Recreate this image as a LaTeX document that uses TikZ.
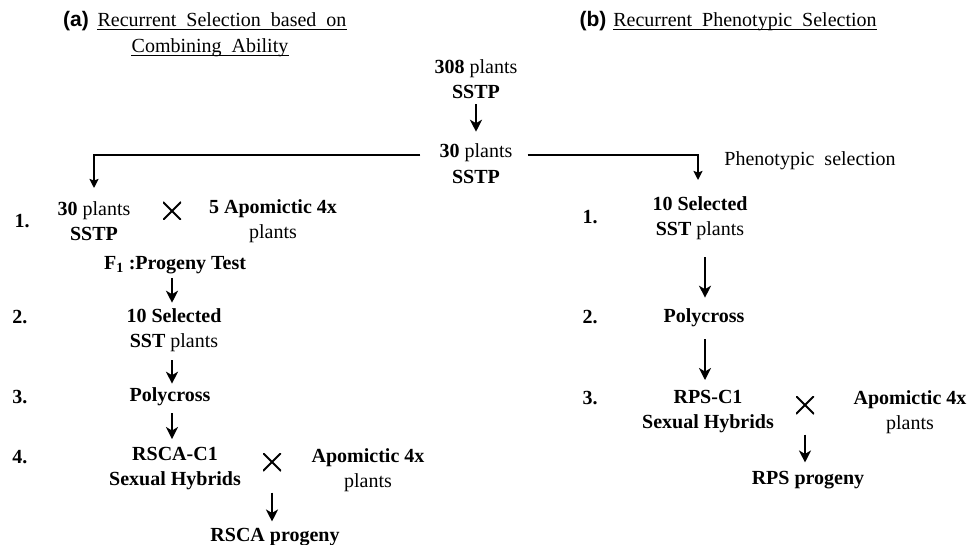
\documentclass[tikz,border=0pt]{standalone}
\usepackage{fontspec}
\setmainfont{Liberation Serif}
\newfontfamily\hdfont{Liberation Sans}
\usetikzlibrary{arrows.meta}
\begin{document}
\begin{tikzpicture}[x=1pt,y=-1pt,
  txt/.style={font=\fontsize{20}{25}\selectfont, align=center, inner sep=1pt},
  hd/.style={font=\fontsize{20}{25}\selectfont, inner sep=0pt, text height=14pt, text depth=3pt},
  uline/.style={line width=0.8pt},
  lab/.style={font=\hdfont\bfseries\fontsize{21}{25}\selectfont, inner sep=0pt},
  num/.style={font=\fontsize{20}{25}\selectfont\bfseries, inner sep=0pt},
  arr/.style={line width=2pt, -{Stealth[length=12pt,width=12pt,inset=3.5pt]}},
  brk/.style={line width=1.7pt, -{Stealth[length=9pt,width=9pt,inset=1.5pt]}},
  crossmark/.style={minimum size=18pt, inner sep=0pt,
    path picture={\draw[line width=2pt]
      (path picture bounding box.north west) -- (path picture bounding box.south east)
      (path picture bounding box.north east) -- (path picture bounding box.south west);}}
]
\useasboundingbox (0,0) rectangle (969,545);
\fill[white] (0,0) rectangle (969,545);
\clip (0,0) rectangle (969,545);

% headings
\node[lab] (la) at (76,21) {(a)};
\node[hd] (ha1) at (222,21) {Recurrent\ \ Selection\ \ based\ \ on};
\node[hd] (ha2) at (210,47) {Combining\ \ Ability};
\node[lab] (lb) at (593,21) {(b)};
\node[hd] (hb1) at (745,21) {Recurrent\ \ Phenotypic\ \ Selection};
\draw[uline] (ha1.south west) -- (ha1.south east);
\draw[uline] (ha2.south west) -- (ha2.south east);
\draw[uline] (hb1.south west) -- (hb1.south east);

% centre column
\node[txt] (p308) at (476,79) {\textbf{308} plants\\\textbf{SSTP}};
\node[txt] (p30) at (476,153) {\textbf{30} plants};
\node[txt] (p30s) at (476,177) {\textbf{SSTP}};
\draw[arr, shorten <=4.5pt, shorten >=11pt] (p308) -- (p30);

% (a) column
\node[num] (a1) at (22,221) {1.};
\node[num] (a2) at (20,317) {2.};
\node[num] (a3) at (20,397) {3.};
\node[num] (a4) at (20,457) {4.};
\node[txt] (a30) at (94,221) {\textbf{30} plants\\\textbf{SSTP}};
\node[crossmark] (ax1) at (172,211) {};
\node[txt] (aapo) at (273,221) {\textbf{5 Apomictic 4x}\\plants};
\node[txt] (af1) at (175,265) {\textbf{F\textsubscript{1} :Progeny Test}};
\node[txt] (asel) at (174,330) {\textbf{10 Selected}\\\textbf{SST} plants};
\node[txt] (apoly) at (170,397) {\textbf{Polycross}};
\node[txt] (arsca) at (175,469) {\textbf{RSCA-C1}\\\textbf{Sexual Hybrids}};
\node[crossmark] (ax2) at (272,462) {};
\node[txt] (aapo2) at (368,470) {\textbf{Apomictic 4x}\\plants};
\node[txt] (aprog) at (275,537) {\textbf{RSCA progeny}};

\draw[arr, shorten <=3pt, shorten >=4.5pt] (af1.south -| 172,0) -- (asel.north -| 172,0);
\draw[arr, shorten <=7.5pt, shorten >=3pt] (asel.south -| 172,0) -- (apoly.north -| 172,0);
\draw[arr, shorten <=6pt, shorten >=7.5pt] (apoly.south -| 172,0) -- (arsca.north -| 172,0);
\draw[arr, shorten <=21.5pt, shorten >=5.5pt] (ax2.south) -- (aprog.north -| ax2);

% (b) column
\node[txt] (phs) at (810,161) {Phenotypic\ \ selection};
\node[num] (b1) at (590,217) {1.};
\node[num] (b2) at (590,317) {2.};
\node[num] (b3) at (590,398) {3.};
\node[txt] (bsel) at (700,218) {\textbf{10 Selected}\\\textbf{SST} plants};
\node[txt] (bpoly) at (704,318) {\textbf{Polycross}};
\node[txt] (brps) at (708,412) {\textbf{RPS-C1}\\\textbf{Sexual Hybrids}};
\node[crossmark] (bx) at (805,405) {};
\node[txt] (bapo) at (910,412) {\textbf{Apomictic 4x}\\plants};
\node[txt] (bprog) at (808,480) {\textbf{RPS progeny}};

\draw[arr, shorten <=16.5pt, shorten >=10pt] (bsel.south -| 705,0) -- (bpoly.north -| 705,0);
\draw[arr, shorten <=11pt, shorten >=9.5pt] (bpoly.south -| 705,0) -- (brps.north -| 705,0);
\draw[arr, shorten <=20.5pt, shorten >=7.5pt] (bx.south) -- (bprog.north -| bx);

% brackets
\coordinate (lt) at (94,188);
\coordinate (rt) at (698,180);
\draw[brk] ([xshift=-18pt,yshift=-2pt]p30.west) -| (lt);
\draw[brk] ([xshift=14pt,yshift=-2pt]p30.east) -| (rt);
\end{tikzpicture}
\end{document}
